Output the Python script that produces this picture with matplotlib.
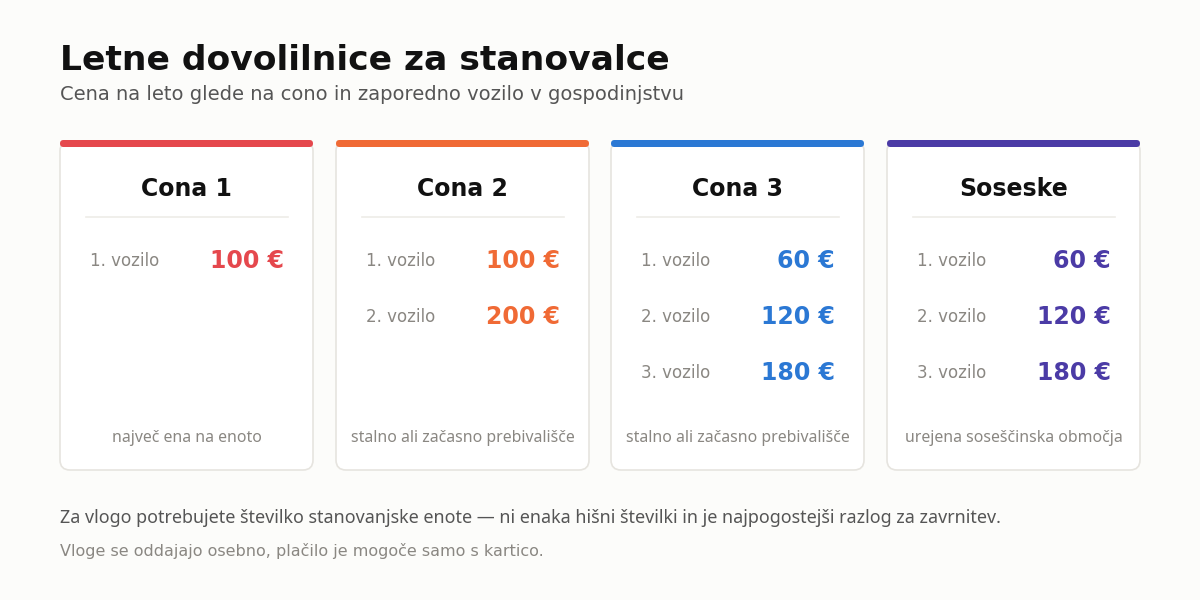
import matplotlib
matplotlib.use('Agg')
import matplotlib.pyplot as plt
from matplotlib.patches import FancyBboxPatch

zones = ['Cona 1', 'Cona 2', 'Cona 3', 'Soseske']
prices = [[100], [100, 200], [60, 120, 180], [60, 120, 180]]
notes = ['največ ena na enoto', 'stalno ali začasno prebivališče',
         'stalno ali začasno prebivališče', 'urejena soseščinska območja']
colors = ['#E5484D', '#F06A35', '#2B78D4', '#4B3BA6']

fig = plt.figure(figsize=(12, 6), dpi=100)
fig.patch.set_facecolor('#FCFCFA')
ax = fig.add_axes([0, 0, 1, 1])
ax.set_xlim(0, 1200)
ax.set_ylim(600, 0)
ax.axis('off')

ax.text(60, 60, 'Letne dovolilnice za stanovalce', fontsize=24.8, fontweight='bold',
        color='#111111', va='center')
ax.text(60, 94, 'Cena na leto glede na cono in zaporedno vozilo v gospodinjstvu',
        fontsize=14, color='#555555', va='center')

card_x = [60, 336, 611, 887]
w, top, bottom = 253, 141, 470
for i, zone in enumerate(zones):
    x = card_x[i]
    ax.add_patch(FancyBboxPatch((x, top), w, bottom - top, boxstyle='round,pad=0,rounding_size=10',
                                fc='white', ec='#E6E4DF', lw=1.2))
    ax.add_patch(FancyBboxPatch((x, 140), w, 7, boxstyle='round,pad=0,rounding_size=3.5',
                                fc=colors[i], ec='none'))
    cx = x + w / 2
    ax.text(cx, 189, zone, fontsize=17, fontweight='bold', color='#111111',
            ha='center', va='center')
    ax.plot([x + 26, x + w - 25], [217, 217], color='#EEECE8', lw=1.2)
    for j, p in enumerate(prices[i]):
        y = 261 + 56 * j
        ax.text(x + 30, y, f'{j + 1}. vozilo', fontsize=12, color='#8A8782', va='center')
        ax.text(x + w - 29, y, f'{p} €', fontsize=17, fontweight='bold', color=colors[i],
                ha='right', va='center')
    ax.text(cx, 438, notes[i], fontsize=11.4, color='#8A8782', ha='center', va='center',
            family='Noto Sans')

ax.text(60, 518, 'Za vlogo potrebujete številko stanovanjske enote — ni enaka hišni številki '
        'in je najpogostejši razlog za zavrnitev.', fontsize=12.9, color='#555555',
        va='center', family='Noto Sans')
ax.text(60, 551, 'Vloge se oddajajo osebno, plačilo je mogoče samo s kartico.',
        fontsize=11.5, color='#8A8782', va='center')

fig.savefig('out.png', dpi=100, facecolor=fig.get_facecolor())
